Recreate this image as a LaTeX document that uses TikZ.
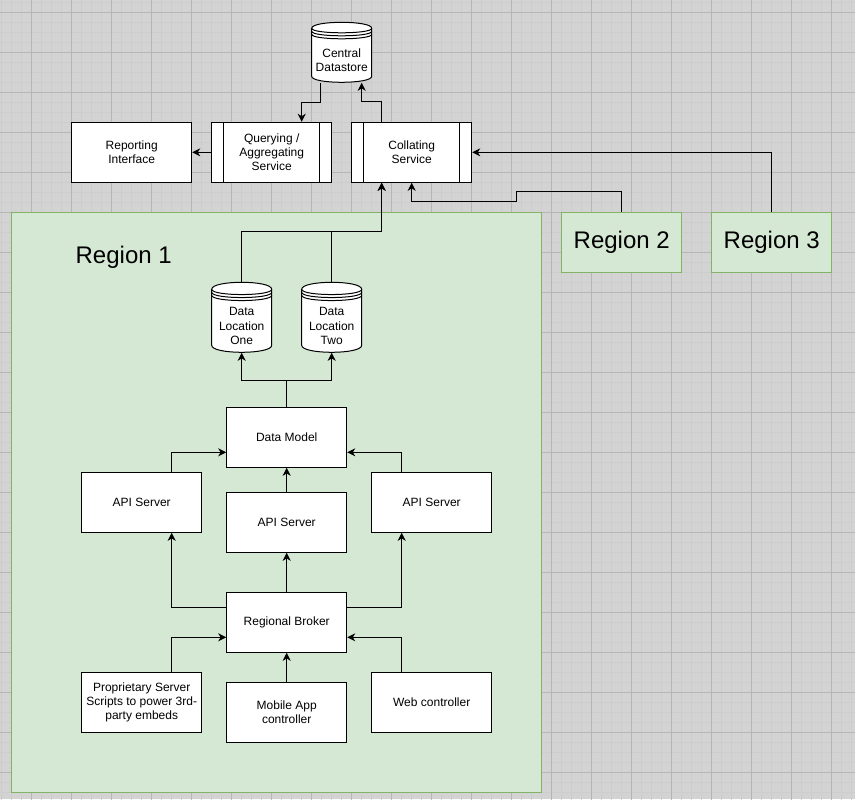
\documentclass[tikz,border=0pt]{standalone}
\usepackage{fontspec}
\setmainfont{Liberation Sans}
\usetikzlibrary{arrows.meta}
\definecolor{bgc}{HTML}{D3D3D3}
\definecolor{gmin}{HTML}{CDCDCD}
\definecolor{gmaj}{HTML}{B6B6B6}
\definecolor{rfill}{HTML}{D5E8D4}
\definecolor{rline}{HTML}{82B366}
\newcommand{\dstore}[7]{%
  \begin{scope}[shift={(#2,#3)}]
    \filldraw[fill=white] (0,#5) .. controls (0,-#5/3) and (60,-#5/3) .. (60,#5) -- (60,#4-#5) .. controls (60,#4+#5/3) and (0,#4+#5/3) .. (0,#4-#5) -- cycle;
    \foreach \o in {0,3,6} \draw (0,#5+\o) .. controls (0,2*#5+\o) and (60,2*#5+\o) .. (60,#5+\o);
  \end{scope}
  \node[cylbody, minimum height=#4*0.75pt] (#1) at (#2+30,#3+#4/2) {};
  \node[txt] (#1t) at ([yshift=-#6]#1.center) {#7};
}
\begin{document}
\begin{tikzpicture}[x=0.75pt,y=-0.75pt,line width=0.75pt,
  txt/.style={font=\fontsize{9}{10.8}\selectfont, align=center, inner sep=0pt},
  box/.style={txt, draw=black, fill=white, minimum width=90pt, minimum height=45pt},
  proc/.style={box, path picture={
      \draw ([xshift=9pt]path picture bounding box.north west) -- ([xshift=9pt]path picture bounding box.south west);
      \draw ([xshift=-9pt]path picture bounding box.north east) -- ([xshift=-9pt]path picture bounding box.south east);}},
  cylbody/.style={minimum width=45pt, inner sep=0pt},
  region/.style={draw=rline, fill=rfill, font=\fontsize{18}{21.6}\selectfont, inner sep=0pt},
  arr/.style={-{Stealth[length=6pt,width=6pt,inset=1.8pt]}}]
\useasboundingbox (0,0) rectangle (855,799);
\clip (0,0) rectangle (855,799);
\fill[bgc] (0,0) rectangle (855,799);
\begin{scope}[shift={(-0.3,0.3)}]
  \foreach \x in {2,12,...,852} \draw[gmin] (\x,-2) -- (\x,802);
  \foreach \y in {2,12,...,802} \draw[gmin] (-2,\y) -- (858,\y);
  \foreach \x in {-8,32,...,872} \draw[gmaj] (\x,-2) -- (\x,802);
  \foreach \y in {12,52,...,812} \draw[gmaj] (-2,\y) -- (858,\y);

  % regions
  \node[region, minimum width=397.5pt, minimum height=435pt] (r1) at (277,502) {};
  \node[txt, font=\fontsize{18}{21.6}\selectfont] (r1lbl) at (124,257) {Region 1};
  \node[region, minimum width=90pt, minimum height=45pt] (r2) at (622,242) {Region 2};
  \node[region, minimum width=90pt, minimum height=45pt] (r3) at (772,242) {Region 3};

  % top row
  \dstore{cds}{312}{22}{60}{6}{6pt}{Central\\Datastore}
  \node[box] (rep) at (132,152) {Reporting\\Interface};
  \node[proc] (qry) at (272,152) {Querying /\\Aggregating\\Service};
  \node[proc] (col) at (412,152) {Collating\\Service};

  % region 1 contents
  \dstore{dlone}{212}{282}{70}{7}{6.75pt}{Data\\Location\\One}
  \dstore{dltwo}{302}{282}{70}{7}{6.75pt}{Data\\Location\\Two}
  \node[box] (dm) at (287,437) {Data Model};
  \node[box] (apil) at (142,502) {API Server};
  \node[box] (apic) at (287,522) {API Server};
  \node[box] (apir) at (432,502) {API Server};
  \node[box] (brk) at (287,622) {Regional Broker};
  \node[box] (prop) at (142,702) {Proprietary Server\\Scripts to power 3rd-\\party embeds};
  \node[box] (mob) at (287,712) {Mobile App\\controller};
  \node[box] (web) at (432,702) {Web controller};

  % connectors
  \draw[arr] ([xshift=-15.75pt]cds.south) -- ++(0,20) -| ([xshift=22.5pt]qry.north);
  \draw[arr] ([xshift=-22.5pt]col.north) -- ++(0,-20) -| ([xshift=15pt]cds.south);
  \draw[arr] (qry.west) -- (rep.east);
  \draw[arr] (r3.north) |- (col.east);
  \draw[arr] (r2.north) -- ++(0,-20) -- ++(-105,0) -- ++(0,10) -| (col.south);
  \draw[arr] (dlone.north) -- ++(0,-50) -| ([xshift=-22.5pt]col.south);
  \draw[arr] (dltwo.north) -- ++(0,-50) -| ([xshift=-22.5pt]col.south);
  \draw[arr] (dm.north) -- ++(0,-26) -| (dlone.south);
  \draw[arr] (dm.north) -- ++(0,-26) -| (dltwo.south);
  \draw[arr] ([xshift=22.5pt]apil.north) |- ([yshift=-11.25pt]dm.west);
  \draw[arr] ([xshift=-22.5pt]apir.north) |- ([yshift=-11.25pt]dm.east);
  \draw[arr] (apic.north) -- (dm.south);
  \draw[arr] ([yshift=11.25pt]brk.west) -| ([xshift=22.5pt]apil.south);
  \draw[arr] ([yshift=11.25pt]brk.east) -| ([xshift=-22.5pt]apir.south);
  \draw[arr] (brk.north) -- (apic.south);
  \draw[arr] ([xshift=22.5pt]prop.north) |- ([yshift=-11.25pt]brk.west);
  \draw[arr] ([xshift=-22.5pt]web.north) |- ([yshift=-11.25pt]brk.east);
  \draw[arr] (mob.north) -- (brk.south);
\end{scope}
\end{tikzpicture}
\end{document}
